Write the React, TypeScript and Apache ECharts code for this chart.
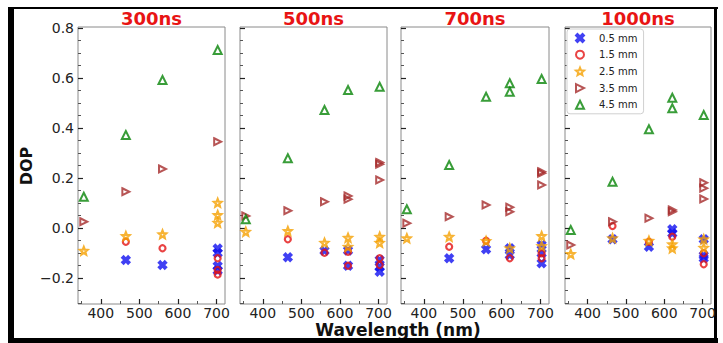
import React, { useEffect, useRef } from "react";
import * as echarts from "echarts";

// ---- data ----
const panelTitles = ["300ns", "500ns", "700ns", "1000ns"];
const thicknesses = ["0.5 mm", "1.5 mm", "2.5 mm", "3.5 mm", "4.5 mm"];
const xTicks = [400, 500, 600, 700];
const xMinorTicks = [350, 450, 550, 650];
const yTicks = [-0.2, 0, 0.2, 0.4, 0.6, 0.8];
const yMinorTicks = [-0.3, -0.25, -0.15, -0.1, -0.05, 0.05, 0.1, 0.15, 0.25, 0.3, 0.35, 0.45, 0.5, 0.55, 0.65, 0.7, 0.75];

// 300 ns
const p300_05 = [[465, -0.128], [560, -0.148], [703, -0.082], [703, -0.1], [703, -0.152], [703, -0.17]];
const p300_15 = [[465, -0.055], [560, -0.081], [703, -0.121], [703, -0.168], [703, -0.186]];
const p300_25 = [[356, -0.091], [465, -0.032], [560, -0.025], [703, 0.101], [703, 0.052], [703, 0.021]];
const p300_35 = [[356, 0.025], [465, 0.145], [560, 0.236], [703, 0.345]];
const p300_45 = [[356, 0.125], [465, 0.372], [560, 0.592], [703, 0.712]];
// 500 ns
const p500_05 = [[465, -0.117], [560, -0.091], [621, -0.09], [621, -0.151], [703, -0.128], [703, -0.155], [703, -0.175]];
const p500_15 = [[465, -0.045], [560, -0.099], [621, -0.095], [621, -0.151], [703, -0.121], [703, -0.148]];
const p500_25 = [[356, -0.015], [465, -0.012], [560, -0.059], [621, -0.039], [621, -0.075], [703, -0.035], [703, -0.059]];
const p500_35 = [[356, 0.048], [465, 0.069], [560, 0.105], [621, 0.128], [621, 0.115], [703, 0.255], [703, 0.262], [703, 0.192]];
const p500_45 = [[356, 0.035], [465, 0.279], [560, 0.472], [621, 0.552], [703, 0.565]];
// 700 ns
const p700_05 = [[465, -0.121], [560, -0.085], [621, -0.081], [621, -0.108], [703, -0.068], [703, -0.101], [703, -0.141]];
const p700_15 = [[465, -0.075], [560, -0.051], [621, -0.121], [703, -0.101], [703, -0.121]];
const p700_25 = [[356, -0.041], [465, -0.035], [560, -0.052], [621, -0.081], [703, -0.032], [703, -0.072]];
const p700_35 = [[356, 0.019], [465, 0.045], [560, 0.092], [621, 0.083], [621, 0.065], [703, 0.219], [703, 0.225], [703, 0.172]];
const p700_45 = [[356, 0.075], [465, 0.252], [560, 0.525], [621, 0.579], [621, 0.545], [703, 0.596]];
// 1000 ns
const p1000_05 = [[465, -0.045], [560, -0.075], [621, -0.005], [621, -0.021], [703, -0.045], [703, -0.121], [703, -0.11]];
const p1000_15 = [[465, 0.008], [560, -0.055], [621, -0.035], [703, -0.101], [703, -0.145]];
const p1000_25 = [[356, -0.104], [465, -0.041], [560, -0.051], [621, -0.065], [621, -0.081], [703, -0.045], [703, -0.079]];
const p1000_35 = [[356, -0.068], [465, 0.025], [560, 0.039], [621, 0.065], [621, 0.072], [703, 0.181], [703, 0.159], [703, 0.116]];
const p1000_45 = [[356, -0.008], [465, 0.185], [560, 0.395], [621, 0.521], [621, 0.479], [703, 0.452]];

const panelData = [
  [p300_05, p300_15, p300_25, p300_35, p300_45],
  [p500_05, p500_15, p500_25, p500_35, p500_45],
  [p700_05, p700_15, p700_25, p700_35, p700_45],
  [p1000_05, p1000_15, p1000_25, p1000_35, p1000_45],
];

// ---- styles ----
const FONT = "DejaVu Sans";
const colors = ["#1010f0", "#e41414", "#f5a000", "#a52a2a", "#078507"];
const symX = "path://M18,0 L50,32 L82,0 L100,18 L68,50 L100,82 L82,100 L50,68 L18,100 L0,82 L32,50 L0,18 Z";
const symStar = "path://M50,0 L63.2,31.8 L97.6,34.6 L71.4,56.9 L79.4,90.5 L50,72.5 L20.6,90.5 L28.6,56.9 L2.4,34.6 L36.8,31.8 Z";
const symRight = "path://M0,0 L100,50 L0,100 Z";
const symbols = [symX, "circle", symStar, symRight, "triangle"];
const symbolSizes = [7, 6, 7.5, 7, 8];
const borderWidths = [2.4, 2.2, 2.2, 2, 2];
const gridLefts = [78, 240, 401, 565];
const gridWidths = [147, 147, 148, 146];
const GRID_TOP = 27;
const GRID_H = 277;
const X_MIN = 341;
const X_MAX = 722;
const Y_MIN = -0.304;
const Y_MAX = 0.804;

function fmtY(v: number) {
  const r = Math.round(v * 10) / 10;
  return r < 0 ? "\u2212" + Math.abs(r).toFixed(1) : r.toFixed(1);
}

export default function App() {
  const ref = useRef<HTMLDivElement>(null);
  useEffect(() => {
    if (!ref.current) return;
    const chart = echarts.init(ref.current, null, { renderer: "svg" });

    const grids: any[] = [];
    const xAxes: any[] = [];
    const yAxes: any[] = [];
    const series: any[] = [];
    const graphics: any[] = [];

    panelTitles.forEach((title, i) => {
      grids.push({
        left: gridLefts[i],
        top: GRID_TOP,
        width: gridWidths[i],
        height: GRID_H,
        show: true,
        borderColor: "#8a8a8a",
        borderWidth: 1,
        backgroundColor: "transparent",
      });
      xAxes.push({
        type: "value",
        gridIndex: i,
        position: "bottom",
        min: X_MIN,
        max: X_MAX,
        axisLine: { show: false, onZero: false },
        splitLine: { show: false },
        axisTick: { show: true, inside: true, length: 5, customValues: xTicks, lineStyle: { color: "#222", width: 1.2 } },
        axisLabel: { show: true, customValues: xTicks, fontFamily: FONT, fontSize: 14, color: "#222", margin: 2 },
      });
      xAxes.push({
        type: "value",
        gridIndex: i,
        position: "bottom",
        min: X_MIN,
        max: X_MAX,
        axisLine: { show: false, onZero: false },
        splitLine: { show: false },
        axisTick: { show: true, inside: true, length: 3, customValues: xMinorTicks, lineStyle: { color: "#555", width: 1 } },
        axisLabel: { show: false },
      });
      yAxes.push({
        type: "value",
        gridIndex: i,
        position: "left",
        min: Y_MIN,
        max: Y_MAX,
        axisLine: { show: false, onZero: false },
        splitLine: { show: false },
        axisTick: { show: true, inside: true, length: 5, customValues: yTicks, lineStyle: { color: "#222", width: 1.2 } },
        axisLabel: {
          show: i === 0,
          customValues: yTicks,
          formatter: (v: number) => fmtY(v),
          fontFamily: FONT,
          fontSize: 14,
          color: "#222",
          margin: 4,
        },
      });
      yAxes.push({
        type: "value",
        gridIndex: i,
        position: "left",
        min: Y_MIN,
        max: Y_MAX,
        axisLine: { show: false, onZero: false },
        splitLine: { show: false },
        axisTick: { show: true, inside: true, length: 3, customValues: yMinorTicks, lineStyle: { color: "#555", width: 1 } },
        axisLabel: { show: false },
      });

      thicknesses.forEach((name, k) => {
        series.push({
          type: "scatter",
          name,
          xAxisIndex: i * 2,
          yAxisIndex: i * 2,
          data: panelData[i][k],
          symbol: symbols[k],
          symbolSize: symbolSizes[k],
          itemStyle: { color: "rgba(255,255,255,0)", borderColor: colors[k], borderWidth: borderWidths[k] },
          emphasis: { disabled: true },
          z: 2 + k,
        });
      });

      graphics.push({
        type: "text",
        x: gridLefts[i] + gridWidths[i] / 2,
        y: 18,
        style: {
          text: title,
          fill: "#e81414",
          font: `bold 18px "${FONT}"`,
          align: "center",
          verticalAlign: "middle",
        },
      });
    });

    graphics.push(
      {
        type: "text",
        x: 398,
        y: 330,
        style: { text: "Wavelength (nm)", fill: "#111", font: `bold 17px "${FONT}"`, align: "center", verticalAlign: "middle" },
      },
      {
        type: "text",
        x: 26,
        y: 166,
        rotation: Math.PI / 2,
        style: { text: "DOP", fill: "#111", font: `bold 16px "${FONT}"`, align: "center", verticalAlign: "middle" },
      },
      // screenshot frame
      { type: "rect", shape: { x: 8, y: 7, width: 6, height: 336 }, style: { fill: "#000" } },
      { type: "rect", shape: { x: 8, y: 7, width: 710, height: 2 }, style: { fill: "#000" } },
      { type: "rect", shape: { x: 714, y: 7, width: 3, height: 336 }, style: { fill: "#000" } },
      { type: "rect", shape: { x: 8, y: 338, width: 710, height: 5 }, style: { fill: "#000" } }
    );

    chart.setOption({
      animation: false,
      backgroundColor: "#fff",
      grid: grids,
      xAxis: xAxes,
      yAxis: yAxes,
      series,
      legend: {
        data: thicknesses,
        orient: "vertical",
        left: 567,
        top: 29,
        itemWidth: 8,
        itemHeight: 8,
        itemGap: 6.7,
        padding: [4, 6, 4, 8],
        backgroundColor: "#fff",
        borderColor: "#d0d0d0",
        borderWidth: 1,
        borderRadius: 3,
        textStyle: { fontFamily: FONT, fontSize: 10, color: "#222", padding: [0, 0, 0, 10] },
        selectedMode: false,
      },
      graphic: graphics,
    });

    return () => chart.dispose();
  }, []);

  return <div ref={ref} style={{ position: "fixed", left: 0, top: 0, width: 723, height: 343 }} />;
}
